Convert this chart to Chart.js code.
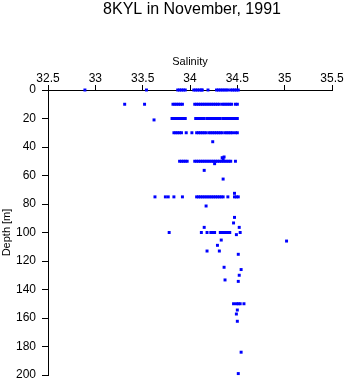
<!DOCTYPE html>
<html>
<head>
<meta charset="utf-8">
<script src="https://cdn.jsdelivr.net/npm/chart.js@4/dist/chart.umd.min.js"></script>
<style>
  html, body { margin: 0; padding: 0; background: #fff; }
  canvas { display: block; }
</style>
</head>
<body>
<canvas id="ctd" width="346" height="384"></canvas>
<script>
// salinity readings at the standard sampling depths
var depthLevels = [0, 10, 20, 30, 50, 75, 100, 150];
var sal0 = [32.89, 33.54, 33.87, 33.89, 33.91, 33.93, 33.95, 34.04, 34.06, 34.08, 34.10,
  34.12, 34.13, 34.19, 34.28, 34.30, 34.32, 34.34, 34.36, 34.38, 34.40,
  34.43, 34.45, 34.47, 34.49, 34.51];
var sal10 = [33.31, 33.52, 33.82, 33.84, 33.86, 33.88, 33.90, 33.92, 34.05, 34.07, 34.09,
  34.11, 34.13, 34.15, 34.17, 34.19, 34.21, 34.23, 34.25, 34.27, 34.29, 34.31,
  34.34, 34.36, 34.38, 34.40, 34.42, 34.44, 34.48, 34.50];
var sal20 = [33.81, 33.83, 33.85, 33.87, 33.89, 33.91, 33.93, 33.95, 34.06, 34.08, 34.11,
  34.13, 34.15, 34.18, 34.20, 34.22, 34.24, 34.26, 34.28, 34.30, 34.32,
  34.35, 34.37, 34.39, 34.41, 34.43, 34.45, 34.48, 34.50];
var sal30 = [33.83, 33.85, 33.87, 33.89, 33.91, 33.96, 34.02, 34.07, 34.09, 34.11, 34.13,
  34.15, 34.17, 34.20, 34.22, 34.24, 34.26, 34.28, 34.30, 34.32, 34.34,
  34.37, 34.39, 34.41, 34.43, 34.45, 34.48, 34.50];
var sal50 = [33.89, 33.91, 33.93, 33.95, 33.97, 34.05, 34.07, 34.09, 34.11, 34.13, 34.15,
  34.17, 34.19, 34.21, 34.23, 34.25, 34.27, 34.29, 34.31, 34.33, 34.35,
  34.37, 34.39, 34.41, 34.43, 34.48];
var sal75 = [33.63, 33.74, 33.77, 33.83, 33.92, 34.07, 34.09, 34.11, 34.13, 34.15, 34.17,
  34.19, 34.21, 34.23, 34.25, 34.27, 34.29, 34.31, 34.33, 34.35, 34.40,
  34.47, 34.49, 34.51];
var sal100 = [33.78, 34.12, 34.18, 34.22, 34.24, 34.26, 34.32, 34.34, 34.36, 34.38,
  34.40, 34.42, 34.53];
var sal150 = [34.46, 34.49, 34.51, 34.53, 34.57];

// odd samples between the standard levels: [salinity, depth]
var extraSamples = [
  [33.62, 21], [34.24, 36.3], [34.34, 47.5], [34.35, 48.5], [34.36, 47],
  [34.26, 51.7], [34.15, 56.4], [34.35, 62.5], [34.47, 72.5], [34.17, 81.4],
  [34.47, 89.4], [34.46, 93.3], [34.15, 96.4], [34.52, 96.4], [34.49, 101.5],
  [35.02, 106], [34.33, 105.3], [34.29, 109], [34.18, 113], [34.31, 113],
  [34.51, 115.3], [34.36, 124.4], [34.54, 126], [34.52, 130], [34.37, 133.3],
  [34.51, 134.3], [34.50, 154.4], [34.49, 157.2], [34.50, 162.3], [34.54, 184],
  [34.51, 199]
];

var salTicks = [32.5, 33, 33.5, 34, 34.5, 35, 35.5];
var depthTicks = [0, 20, 40, 60, 80, 100, 120, 140, 160, 180, 200];

var fonts = "'Liberation Sans', Arial, sans-serif";

var levelSets = [sal0, sal10, sal20, sal30, sal50, sal75, sal100, sal150];
var points = [];
levelSets.forEach(function (arr, i) {
  arr.forEach(function (s) { points.push({ x: s, y: depthLevels[i] }); });
});
extraSamples.forEach(function (p) { points.push({ x: p[0], y: p[1] }); });

// title centred over the plot area, like the original
var plotTitle = {
  id: 'plotTitle',
  afterDraw: function (chart) {
    var ctx = chart.ctx, a = chart.chartArea;
    ctx.save();
    ctx.fillStyle = '#000';
    ctx.font = '16px ' + fonts;
    ctx.textAlign = 'center';
    ctx.textBaseline = 'middle';
    ctx.fillText('8KYL in November, 1991', (a.left + a.right) / 2 + 2, 10);
    ctx.restore();
  }
};

new Chart(document.getElementById('ctd').getContext('2d'), {
  type: 'scatter',
  data: {
    datasets: [{
      label: 'Salinity',
      data: points,
      pointStyle: 'rect',
      pointRadius: 2.1,
      pointBorderWidth: 0,
      backgroundColor: '#0000ff',
      borderColor: '#0000ff',
      clip: false
    }]
  },
  options: {
    responsive: false,
    animation: false,
    layout: { padding: { left: 0, right: 14, top: 0, bottom: 9 } },
    plugins: {
      legend: { display: false },
      tooltip: { enabled: false },
      title: { display: false }
    },
    scales: {
      x: {
        type: 'linear',
        position: 'top',
        min: salTicks[0],
        max: salTicks[salTicks.length - 1],
        afterBuildTicks: function (s) { s.ticks = salTicks.map(function (v) { return { value: v }; }); },
        afterFit: function (s) { s.height = 90; },
        grid: { drawOnChartArea: false, drawTicks: true, tickLength: 5, color: '#000', lineWidth: 1 },
        border: { display: true, color: '#000', width: 1 },
        ticks: {
          color: '#000', padding: -1, maxRotation: 0, font: { family: fonts, size: 12 },
          callback: function (v) { return String(v); }
        },
        title: { display: true, text: 'Salinity', color: '#000', padding: { top: 55, bottom: 0 }, font: { family: fonts, size: 11 } }
      },
      y: {
        type: 'linear',
        reverse: true,
        min: depthTicks[0],
        max: depthTicks[depthTicks.length - 1],
        afterBuildTicks: function (s) { s.ticks = depthTicks.map(function (v) { return { value: v }; }); },
        afterFit: function (s) { s.width = 48; s.paddingTop = 0; s.paddingBottom = 0; },
        grid: { drawOnChartArea: false, drawTicks: true, tickLength: 6, color: '#000', lineWidth: 1 },
        border: { display: true, color: '#000', width: 1 },
        ticks: {
          color: '#000', padding: 6, font: { family: fonts, size: 12 },
          callback: function (v) { return String(v); }
        },
        title: { display: true, text: 'Depth [m]', color: '#000', padding: { top: 0, bottom: 0 }, font: { family: fonts, size: 11 } }
      }
    }
  },
  plugins: [plotTitle]
});
</script>
</body>
</html>
